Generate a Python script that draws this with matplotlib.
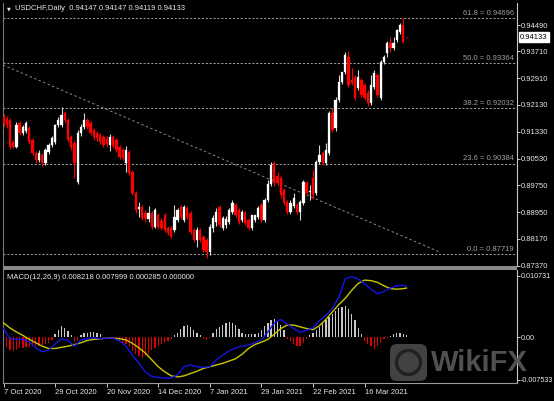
import matplotlib
matplotlib.use("Agg")
import matplotlib.pyplot as plt
from matplotlib.patches import Rectangle, FancyBboxPatch, Circle
from matplotlib.transforms import blended_transform_factory
import numpy as np

plt.rcParams['font.family'] = ['Liberation Sans', 'DejaVu Sans']

# --- USDCHF daily candles ---
opens = [.9177, .9171, .9168, .9103, .9088, .9159, .9129, .9135, .9144, .9109,
         .9070, .9049, .9064, .9041, .9073, .9094, .9103, .9153, .9153, .9189,
         .9168, .9118, .9100, .8984, .9129, .9147, .9168, .9159, .9138, .9129,
         .9123, .9118, .9112, .9094, .9118, .9109, .9088, .9079, .9041, .9073,
         .9014, .8952, .8904, .8910, .8893, .8875, .8893, .8851, .8887, .8869,
         .8887, .8848, .8848, .8842, .8872, .8910, .8872, .8907, .8893, .8842,
         .8813, .8842, .8822, .8813, .8777, .8848, .8866, .8910, .8848, .8857,
         .8866, .8896, .8916, .8901, .8872, .8893, .8872, .8848, .8872, .8881,
         .8916, .8872, .8931, .8978, .9041, .9002, .8996, .8961, .8925, .8896,
         .8913, .8916, .8896, .8922, .8981, .8955, .8996, .8952, .9044, .9070,
         .9041, .9070, .9189, .9144, .9227, .9280, .9310, .9354, .9286, .9295,
         .9262, .9286, .9271, .9248, .9218, .9265, .9301, .9233, .9339, .9366,
         .9396, .9381, .9405, .9428, .9449, .94147]
highs = [.9186, .9180, .9174, .9109, .9162, .9165, .9153, .9165, .9150, .9115,
         .9076, .9079, .9070, .9085, .9100, .9120, .9156, .9177, .9206, .9194,
         .9174, .9123, .9109, .9138, .9156, .9189, .9174, .9165, .9144, .9135,
         .9129, .9123, .9120, .9126, .9123, .9115, .9094, .9085, .9091, .9079,
         .9020, .8958, .8925, .8916, .8901, .8913, .8898, .8907, .8893, .8878,
         .8893, .8854, .8854, .8916, .8907, .8916, .8916, .8913, .8898, .8848,
         .8851, .8848, .8827, .8819, .8860, .8887, .8907, .8916, .8884, .8884,
         .8907, .8931, .8922, .8907, .8901, .8898, .8878, .8887, .8887, .8913,
         .8922, .8937, .8990, .9044, .9046, .9014, .9002, .8967, .8931, .8931,
         .8952, .8922, .8931, .8990, .8987, .8975, .9020, .9049, .9094, .9076,
         .9100, .9194, .9203, .9236, .9301, .9310, .9369, .9372, .9322, .9301,
         .9316, .9292, .9277, .9257, .9301, .9316, .9307, .9345, .9360, .9402,
         .9413, .9413, .9437, .9455, .9470, .94147]
lows = [.9150, .9144, .9082, .9085, .9085, .9123, .9123, .9129, .9097, .9064,
        .9041, .9044, .9032, .9035, .9067, .9088, .9097, .9147, .9147, .9162,
        .9103, .9079, .8996, .8978, .9120, .9141, .9141, .9123, .9109, .9106,
        .9097, .9088, .9088, .9076, .9085, .9073, .9052, .9049, .9014, .9005,
        .8946, .8893, .8881, .8872, .8866, .8866, .8845, .8848, .8845, .8842,
        .8836, .8827, .8819, .8836, .8866, .8875, .8866, .8875, .8830, .8807,
        .8792, .8807, .8777, .8759, .8768, .8836, .8854, .8851, .8842, .8848,
        .8860, .8890, .8881, .8860, .8866, .8857, .8842, .8842, .8866, .8875,
        .8866, .8866, .8925, .8972, .8972, .8975, .8937, .8916, .8890, .8890,
        .8907, .8890, .8872, .8916, .8946, .8931, .8934, .8946, .9038, .9035,
        .9035, .9064, .9132, .9135, .9221, .9274, .9304, .9265, .9271, .9227,
        .9257, .9236, .9227, .9209, .9212, .9260, .9236, .9227, .9334, .9354,
        .9369, .9375, .9399, .9422, .9396, .94119]
closes = [.9159, .9153, .9088, .9088, .9153, .9129, .9147, .9159, .9103, .9070,
          .9049, .9070, .9041, .9079, .9094, .9115, .9153, .9168, .9183, .9168,
          .9109, .9088, .9041, .9129, .9147, .9168, .9147, .9129, .9118, .9115,
          .9103, .9094, .9097, .9118, .9091, .9079, .9058, .9055, .9079, .9011,
          .8952, .8901, .8910, .8878, .8878, .8893, .8851, .8901, .8851, .8848,
          .8842, .8833, .8822, .8881, .8901, .8881, .8910, .8881, .8836, .8813,
          .8842, .8813, .8783, .8777, .8851, .8878, .8896, .8857, .8878, .8875,
          .8901, .8922, .8887, .8866, .8896, .8863, .8848, .8887, .8887, .8907,
          .8872, .8931, .8978, .9035, .8981, .8981, .8946, .8922, .8896, .8922,
          .8937, .8896, .8925, .8984, .8952, .8958, .8946, .9044, .9064, .9041,
          .9079, .9189, .9138, .9227, .9280, .9310, .9360, .9271, .9277, .9233,
          .9295, .9242, .9233, .9218, .9271, .9307, .9242, .9339, .9354, .9396,
          .9381, .9396, .9434, .9449, .9399, .94133]

date_bars = [0, 16, 32, 48, 64, 80, 96, 112]
date_labels = ['7 Oct 2020', '29 Oct 2020', '20 Nov 2020', '14 Dec 2020',
               '7 Jan 2021', '29 Jan 2021', '22 Feb 2021', '16 Mar 2021']
price_ticks = [0.94490, 0.93710, 0.92910, 0.92130, 0.91330,
               0.90530, 0.89750, 0.88950, 0.88170, 0.87370]

fib_names = ['61.8', '50.0', '38.2', '23.6', '0.0']
fib_levels = [0.94696, 0.93364, 0.92032, 0.90384, 0.87719]
trend_bars = [-0.2, 135.4]
trend_prices = [0.9331, 0.8777]

# --- MACD(12,26,9), lines sampled every other bar ---
macd_bars = list(range(0, 125, 2)) + [125]
macd_line = [0.0015, -0.0003, -0.0004, -0.0004, -0.0009, -0.0019, -0.0026, -0.0023, -0.0012, -0.0003,
             -0.0006, -0.0016, -0.0005, -0.0003, -0.0001, -0.0003, -0.0002, -0.0002, -0.0007, -0.0016,
             -0.0032, -0.0046, -0.0061, -0.0069, -0.0071, -0.0072, -0.0072, -0.0066, -0.0052, -0.0049,
             -0.0052, -0.0053, -0.0052, -0.0040, -0.0032, -0.0024, -0.0019, -0.0016, -0.0014, -0.0010,
             -0.0005, 0.0009, 0.0025, 0.0031, 0.0023, 0.0015, 0.0008, 0.0012, 0.0016, 0.0029,
             0.0038, 0.0050, 0.0070, 0.0102, 0.0106, 0.0102, 0.0094, 0.0084, 0.0076, 0.0080,
             0.0086, 0.0090, 0.0091, 0.0089]
signal_line = [0.0025, 0.0016, 0.0009, 0.0003, -0.0004, -0.0010, -0.0016, -0.0020, -0.0020, -0.0018,
               -0.0016, -0.0013, -0.0010, -0.0006, -0.0004, -0.0003, -0.0002, -0.0002, -0.0003, -0.0005,
               -0.0011, -0.0019, -0.0028, -0.0040, -0.0052, -0.0061, -0.0068, -0.0070, -0.0068, -0.0064,
               -0.0060, -0.0055, -0.0052, -0.0049, -0.0046, -0.0042, -0.0038, -0.0030, -0.0020, -0.0013,
               -0.0009, -0.0004, 0.0005, 0.0015, 0.0021, 0.0021, 0.0018, 0.0015, 0.0013, 0.0020,
               0.0031, 0.0044, 0.0057, 0.0068, 0.0082, 0.0094, 0.0100, 0.0099, 0.0096, 0.0090,
               0.0085, 0.0084, 0.0085, 0.0086]
macd_hist = [-0.0013, -0.0018, -0.0022, -0.0024, -0.0022, -0.0020, -0.0019, -0.0018, -0.0017, -0.0016,
             -0.0016, -0.0015, -0.0014, -0.0012, -0.0010, -0.0006,
             0.0005, 0.0013, 0.0020, 0.0016, 0.0010, 0.0003, -0.0008, -0.0005,
             0.0004, 0.0007, 0.0008, 0.0009, 0.0009, 0.0008, 0.0005,
             -0.0002, -0.0002, -0.0003, -0.0002, -0.0003,
             -0.0007, -0.0010, -0.0013, -0.0018, -0.0024, -0.0030, -0.0033, -0.0036, -0.0034, -0.0030,
             -0.0023, -0.0020, -0.0016, -0.0013, -0.0010, -0.0007, -0.0004,
             0.0003, 0.0008, 0.0014, 0.0019, 0.0021, 0.0017, 0.0012, 0.0008, 0.0004,
             -0.0003, -0.0005, -0.0002,
             0.0007, 0.0014, 0.0018, 0.0022, 0.0025, 0.0026, 0.0025, 0.0021, 0.0014,
             0.0008, 0.0006, 0.0005, 0.0005, 0.0006, 0.0008,
             0.0013, 0.0019, 0.0025, 0.0030, 0.0031, 0.0028, 0.0022, 0.0012,
             -0.0003, -0.0007, -0.0012, -0.0016, -0.0015, -0.0010, -0.0004,
             0.0003, 0.0008, 0.0013, 0.0018, 0.0024, 0.0030, 0.0036, 0.0041, 0.0046, 0.0051,
             0.0053, 0.0054, 0.0050, 0.0040, 0.0030, 0.0016, 0.0005,
             -0.0007, -0.0012, -0.0016, -0.0021, -0.0016, -0.0010, -0.0004, -0.0002,
             0.0002, 0.0005, 0.0007, 0.0008, 0.0006, 0.0003]
macd_ticks = [0.010731, 0.0, -0.007533]
macd_tick_labels = ['0.010731', '0.00', '-0.007533']

UP = '#ffffff'
DOWN = '#ff0000'
GRID = '#a0a0a0'
TXT = '#e8e8e8'
FS = 5.5
W, H = 554, 401

fig = plt.figure(figsize=(W / 100, H / 100), dpi=100, facecolor='black')
ax = fig.add_axes([3 / W, 1 - 266 / H, 514 / W, 263 / H], facecolor='black')
ax2 = fig.add_axes([3 / W, 1 - 383 / H, 514 / W, 113 / H], facecolor='black')

x = np.arange(len(closes))
o = np.array(opens)
c = np.array(closes)
up = c >= o
body_col = [UP if u else DOWN for u in up]
wick_col = ['#d8d8d8' if u else DOWN for u in up]
ax.vlines(x, lows, highs, colors=wick_col, lw=0.8, zorder=3)
ax.bar(x, np.maximum(np.abs(c - o), 0.00012), bottom=np.minimum(o, c), width=0.72,
       color=body_col, edgecolor=body_col, linewidth=0.2, zorder=4)

# fibonacci levels and trend line
for name, lvl in zip(fib_names, fib_levels):
    ax.axhline(lvl, color=GRID, lw=0.7, ls=(0, (2.2, 1.8)), zorder=2)
    ax.annotate(f'{name} = {lvl:.5f}', xy=(0.994, lvl), xycoords=('axes fraction', 'data'),
                xytext=(0, 1), textcoords='offset points', ha='right', va='bottom',
                color=GRID, fontsize=FS)
ax.plot(trend_bars, trend_prices, color='#8c8c8c', lw=0.7, ls=(0, (2.5, 2.5)), zorder=2)

xlim = (-0.16, 159.27)
ax.set_xlim(*xlim)
ax.set_ylim(0.87362, 0.95141)
ax.set_xticks([])
ax.yaxis.tick_right()
ax.set_yticks(price_ticks)
ax.set_yticklabels([f'{p:.5f}' for p in price_ticks])
ax.tick_params(axis='y', colors=TXT, labelsize=FS, length=2, width=0.6, pad=1)

# current price marker
tr = blended_transform_factory(ax.transAxes, ax.transData)
ax.text(1.006, closes[-1], f'{closes[-1]:.5f}', transform=tr, ha='left', va='center',
        fontsize=FS, color='black', zorder=10,
        bbox=dict(boxstyle='square,pad=0.15', fc='white', ec='white'))

# MACD panel
hx = np.arange(len(macd_hist))
hist_col = ['#c8c8c8' if v > 0 else '#e00000' for v in macd_hist]
ax2.bar(hx, macd_hist, width=0.4, color=hist_col, linewidth=0, zorder=2)
ax2.plot(macd_bars, signal_line, color='#c8c800', lw=1.0, zorder=3)
ax2.plot(macd_bars, macd_line, color='#1414e6', lw=1.0, zorder=4)
ax2.set_xlim(*xlim)
ax2.set_ylim(-0.00806, 0.01177)
ax2.yaxis.tick_right()
ax2.set_yticks(macd_ticks)
ax2.set_yticklabels(macd_tick_labels)
ax2.tick_params(axis='y', colors=TXT, labelsize=5.2, length=2, width=0.6, pad=1)
ax2.set_xticks(date_bars)
ax2.set_xticklabels(date_labels)
for lab in ax2.get_xticklabels():
    lab.set_horizontalalignment('left')
ax2.tick_params(axis='x', colors=TXT, labelsize=FS, length=3, width=0.6, pad=1.5)
ax2.text(0.008, 0.935, 'MACD(12,26,9) 0.008218 0.007999 0.000285 0.000000',
         transform=ax2.transAxes, ha='left', va='center', color=TXT, fontsize=FS)

for a in (ax, ax2):
    a.spines['left'].set_color('#7a7a7a')
    a.spines['right'].set_color('#c8c8c8')
    a.spines['top'].set_visible(False)
    a.spines['bottom'].set_visible(False)
    for s in ('left', 'right'):
        a.spines[s].set_linewidth(0.8)
ax2.spines['bottom'].set_visible(True)
ax2.spines['bottom'].set_color('#9a9a9a')
ax2.spines['bottom'].set_linewidth(0.8)

# separator between panels
fig.patches.append(Rectangle((3 / W, 1 - 270 / H), 514 / W, 4 / H, transform=fig.transFigure,
                             fc='#8a8a8a', ec='none', zorder=5))

# header
fig.text(8.5 / W, 1 - 9 / H, '\u25bc', fontsize=3.5, color=TXT, ha='center', va='center',
         family='DejaVu Sans')
fig.text(15 / W, 1 - 9 / H, 'USDCHF,Daily  0.94147 0.94147 0.94119 0.94133',
         fontsize=FS, color=TXT, ha='left', va='center')

# watermark
fig.patches.append(FancyBboxPatch((3.90, 0.20), 0.37, 0.37,
                                  boxstyle='round,pad=0,rounding_size=0.07',
                                  transform=fig.dpi_scale_trans, fc='#4a4a4a', ec='none',
                                  alpha=0.9, zorder=6))
fig.patches.append(Circle((4.085, 0.385), 0.12, transform=fig.dpi_scale_trans, fc='none',
                          ec='#1e1e1e', lw=2.5, alpha=0.9, zorder=7))
fig.text(431 / W, 1 - 371 / H, 'WikiFX', fontsize=21, weight='bold', color='#555555',
         ha='left', va='baseline', alpha=0.95, zorder=8)

fig.savefig('out.png', dpi=100, facecolor='black')
